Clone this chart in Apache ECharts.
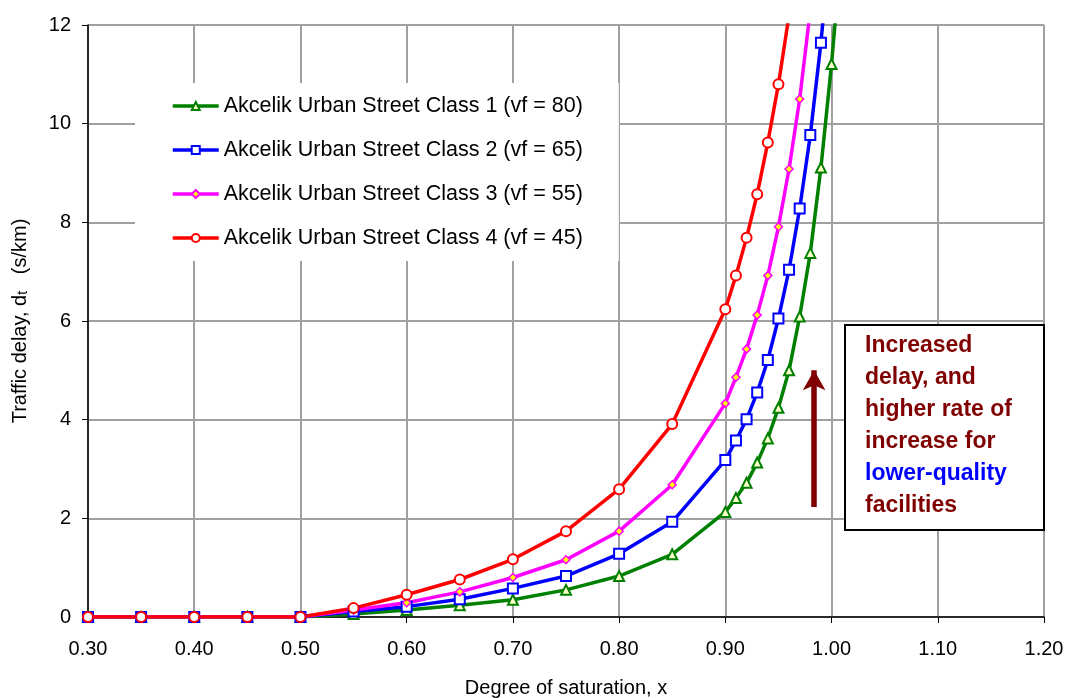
<!DOCTYPE html>
<html>
<head>
<meta charset="utf-8">
<script src="https://cdn.jsdelivr.net/npm/echarts@6/dist/echarts.min.js"></script>
<style>
html,body{margin:0;padding:0;background:#fff;}
#chart{width:1071px;height:698px;}
</style>
</head>
<body>
<div id="chart"></div>
<script>
// Degree of saturation (x) values at which points are plotted
var xValues = [0.30,0.35,0.40,0.45,0.50,0.55,0.60,0.65,0.70,0.75,0.80,0.85,0.90,0.91,0.92,0.93,0.94,0.95,0.96,0.97,0.98,0.99,1.00,1.01];
// Traffic delay (s/km) for each class
var class1 = [0,0,0,0,0,0.06,0.14,0.24,0.35,0.55,0.83,1.27,2.13,2.41,2.72,3.13,3.62,4.24,5.00,6.09,7.38,9.11,11.21,13.7];
var class2 = [0,0,0,0,0,0.11,0.21,0.36,0.58,0.83,1.28,1.93,3.18,3.58,4.01,4.55,5.21,6.05,7.04,8.28,9.77,11.64,14.0,null];
var class3 = [0,0,0,0,0,0.14,0.29,0.51,0.80,1.16,1.74,2.68,4.33,4.86,5.43,6.12,6.92,7.91,9.08,10.50,12.3,null,null,null];
var class4 = [0,0,0,0,0,0.18,0.45,0.76,1.17,1.74,2.59,3.91,6.24,6.92,7.69,8.57,9.62,10.80,12.2,null,null,null,null,null];
var seriesNames = [
  'Akcelik Urban Street Class 1 (vf = 80)',
  'Akcelik Urban Street Class 2 (vf = 65)',
  'Akcelik Urban Street Class 3 (vf = 55)',
  'Akcelik Urban Street Class 4 (vf = 45)'
];
var xTicks = {min: 0.3, max: 1.2, interval: 0.1};
var yTicks = {min: 0, max: 12, interval: 2};
// annotation arrow (data coords)
var arrowX = 0.9836, arrowY0 = 2.23, arrowY1 = 5.0;

function pairs(vals){
  var out = [];
  for (var i = 0; i < xValues.length; i++) {
    if (vals[i] !== null) out.push([xValues[i], vals[i]]);
  }
  return out;
}

var FONT = 'Arial, "Liberation Sans", sans-serif';
var chart = echarts.init(document.getElementById('chart'), null, {renderer: 'canvas'});

function mkSeries(name, vals, color, symbol, size, fill, bw) {
  return {
    name: name,
    type: 'line',
    data: pairs(vals),
    clip: true,
    symbol: symbol,
    symbolSize: size,
    showAllSymbol: true,
    lineStyle: {color: color, width: 3.5},
    itemStyle: {color: fill, borderColor: color, borderWidth: bw},
    emphasis: {disabled: true},
    animation: false
  };
}

var s1 = mkSeries(seriesNames[0], class1, '#008000', 'triangle', 10, '#ffffcc', 2);
var s2 = mkSeries(seriesNames[1], class2, '#0000ff', 'rect', 10, '#ffffff', 2);
var s3 = mkSeries(seriesNames[2], class3, '#ff00ff', 'diamond', 8, '#ffff00', 1.5);
var s4 = mkSeries(seriesNames[3], class4, '#ff0000', 'circle', 10, '#ffffff', 2);
s1.markLine = {
  silent: true,
  animation: false,
  label: {show: false},
  lineStyle: {color: '#800000', width: 5.5, type: 'solid'},
  symbol: ['none', 'arrow'],
  symbolSize: [17, 20],
  data: [[{coord: [arrowX, arrowY0]}, {coord: [arrowX, arrowY1]}]]
};

var option = {
  animation: false,
  backgroundColor: '#ffffff',
  grid: {left: 88, right: 27, top: 25, bottom: 81, containLabel: false, outerBoundsMode: 'none'},
  xAxis: {
    type: 'value',
    min: xTicks.min, max: xTicks.max, interval: xTicks.interval,
    name: 'Degree of saturation, x',
    nameLocation: 'middle',
    nameGap: 61,
    nameTextStyle: {fontFamily: FONT, fontSize: 20, color: '#000'},
    axisLine: {lineStyle: {color: '#000', width: 1.5}},
    axisTick: {show: true, length: 6, lineStyle: {color: '#000', width: 1}},
    axisLabel: {fontFamily: FONT, fontSize: 20, color: '#000', margin: 22,
      formatter: function(v){ return v.toFixed(2); }},
    splitLine: {show: true, lineStyle: {color: '#a0a0a0', width: 2}}
  },
  yAxis: {
    type: 'value',
    min: yTicks.min, max: yTicks.max, interval: yTicks.interval,
    name: 'Traffic delay, d{s|t}   (s/km)',
    nameLocation: 'middle',
    nameGap: 58,
    nameRotate: 90,
    nameTextStyle: {fontFamily: FONT, fontSize: 20, color: '#000',
      rich: {s: {fontFamily: FONT, fontSize: 14, color: '#000', verticalAlign: 'bottom', padding: [6,0,0,0]}}},
    axisLine: {show: true, lineStyle: {color: '#000', width: 1.5}},
    axisTick: {show: true, length: 6, lineStyle: {color: '#000', width: 1}},
    axisLabel: {fontFamily: FONT, fontSize: 20, color: '#000', margin: 17},
    splitLine: {show: true, lineStyle: {color: '#a0a0a0', width: 2}}
  },
  legend: {
    show: true,
    orient: 'vertical',
    left: 135,
    top: 83,
    backgroundColor: '#ffffff',
    padding: [12, 36, 12, 36],
    itemGap: 22,
    itemWidth: 46,
    itemHeight: 10,
    selectedMode: false,
    lineStyle: {width: 3.5},
    textStyle: {fontFamily: FONT, fontSize: 21.5, color: '#000'},
    data: seriesNames
  },
  graphic: [
    {
      type: 'rect',
      left: 844, top: 324,
      shape: {width: 199, height: 205},
      style: {fill: '#ffffff', stroke: '#000000', lineWidth: 2},
      z: 100
    },
    {
      type: 'text',
      left: 865, top: 334,
      style: {
        text: '{r|Increased}\n{r|delay, and}\n{r|higher rate of}\n{r|increase for}\n{b|lower-quality}\n{r|facilities}',
        rich: {
          r: {fontFamily: FONT, fontWeight: 'bold', fontSize: 23, lineHeight: 32, fill: '#800000', color: '#800000'},
          b: {fontFamily: FONT, fontWeight: 'bold', fontSize: 23, lineHeight: 32, fill: '#0000ff', color: '#0000ff'}
        }
      },
      z: 101
    }
  ],
  series: [s1, s2, s3, s4]
};
chart.setOption(option);
</script>
</body>
</html>
